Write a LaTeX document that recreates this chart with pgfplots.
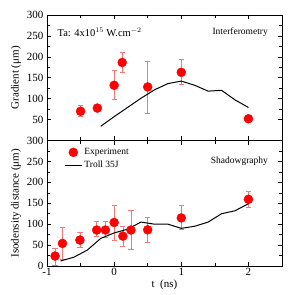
\documentclass[border=0pt]{standalone}
\usepackage{pgfplots}
\pgfplotsset{compat=1.18}
\usepackage{pgfplotstable}
\usepackage{fontspec}
\setmainfont{Liberation Serif}
\definecolor{ebar}{RGB}{245,120,120}
\pgfplotstableread{
t v ep em
-0.5 70 13 12
-0.25 77.5 0 0
0 132 36 34
0.12 186.5 23.5 22.5
0.5 128 62 62
1.0 163 31 29
2.0 52 0 0
}\topexp
\pgfplotstableread{
t v
-0.2 34
0 57
0.2 79
0.4 101
0.6 121
0.8 136
1.0 142
1.2 132
1.4 118
1.6 120
1.8 97
2.0 79
}\topsim
\pgfplotstableread{
t v ep em
-0.88 23.8 18 22
-0.77 54 38 38
-0.51 62 19 18
-0.26 86 20 16
-0.13 86 20 17
0 104 42 42
0.13 71.4 24 24
0.25 86 46 46
0.5 86.5 31 30
1.0 115 30 28
2.0 159.5 20 20
}\botexp
\pgfplotstableread{
t v
-0.8 12
-0.6 21
-0.4 38
-0.2 66
0 79
0.2 88
0.4 105
0.6 100
0.8 100
1.0 90
1.2 95
1.4 105
1.6 125
1.8 132
2.0 149
}\botsim
\pgfplotsset{
  panel/.style={
    scale only axis, width=235pt, height=125.5pt,
    xmin=-1, xmax=2.5, ymin=0, ymax=300,
    xtick={-1,0,1,2}, minor xtick={-0.5,0.5,1.5},
    minor y tick num=1,
    tick align=inside, ticks=both,
    major tick length=4pt, minor tick length=3pt,
    tick style={black, line width=0.5pt},
    axis line style={line width=0.6pt},
    tick label style={font=\fontsize{11}{12}\selectfont},
    xticklabel style={yshift=1pt},
    label style={font=\fontsize{11}{12}\selectfont},
    /pgf/number format/assume math mode=true,
    clip=false,
  },
  expstyle/.style={only marks, mark=*, mark size=4.5pt, color=red,
    mark options={fill=red, draw=red},
    error bars/.cd, y dir=both, y explicit,
    error bar style={ebar, line width=0.6pt},
    error mark options={rotate=90, ebar, mark size=2.6pt, line width=0.6pt}},
  simstyle/.style={black, line width=1pt, no marks},
}
\begin{document}
\begin{tikzpicture}
\begin{axis}[panel, name=top,
  xticklabels={}, ytick={50,100,...,300},
  ylabel={Gradient (μm)}, ylabel style={yshift=-1pt}]
\addplot[expstyle] table[x=t, y=v, y error plus=ep, y error minus=em] {\topexp};
\addplot[simstyle] table[x=t, y=v] {\topsim};
\node[anchor=west, font=\fontsize{10.5}{12}\selectfont] at (rel axis cs:0.03,0.865) {Ta: 4x10$^{15}$ W.cm$^{-2}$};
\node[anchor=east, font=\fontsize{9.5}{12}\selectfont] at (rel axis cs:0.955,0.86) {Interferometry};
\end{axis}
\begin{axis}[panel, name=bot, at={(top.south west)}, anchor=north west,
  ytick={0,50,...,300},
  xlabel={t\ \ (ns)}, xlabel style={yshift=3pt},
  ylabel={Isodensity distance (μm)}, ylabel style={yshift=-1pt},
  legend style={at={(rel axis cs:0.06,0.97)}, anchor=north west, draw=none, fill=none,
    font=\fontsize{9.5}{11}\selectfont, row sep=1pt},
  legend cell align=left]
\addplot[expstyle] table[x=t, y=v, y error plus=ep, y error minus=em] {\botexp};
\addlegendentry{Experiment}
\addplot[simstyle] table[x=t, y=v] {\botsim};
\addlegendentry{Troll 35J}
\node[anchor=east, font=\fontsize{9.5}{12}\selectfont] at (rel axis cs:0.955,0.835) {Shadowgraphy};
\end{axis}
\path (top.north west) ++(-47pt,15pt) coordinate (bbA);
\path (bot.south east) ++(6pt,-29pt) coordinate (bbB);
\useasboundingbox (bbA) rectangle (bbB);
\end{tikzpicture}
\end{document}
